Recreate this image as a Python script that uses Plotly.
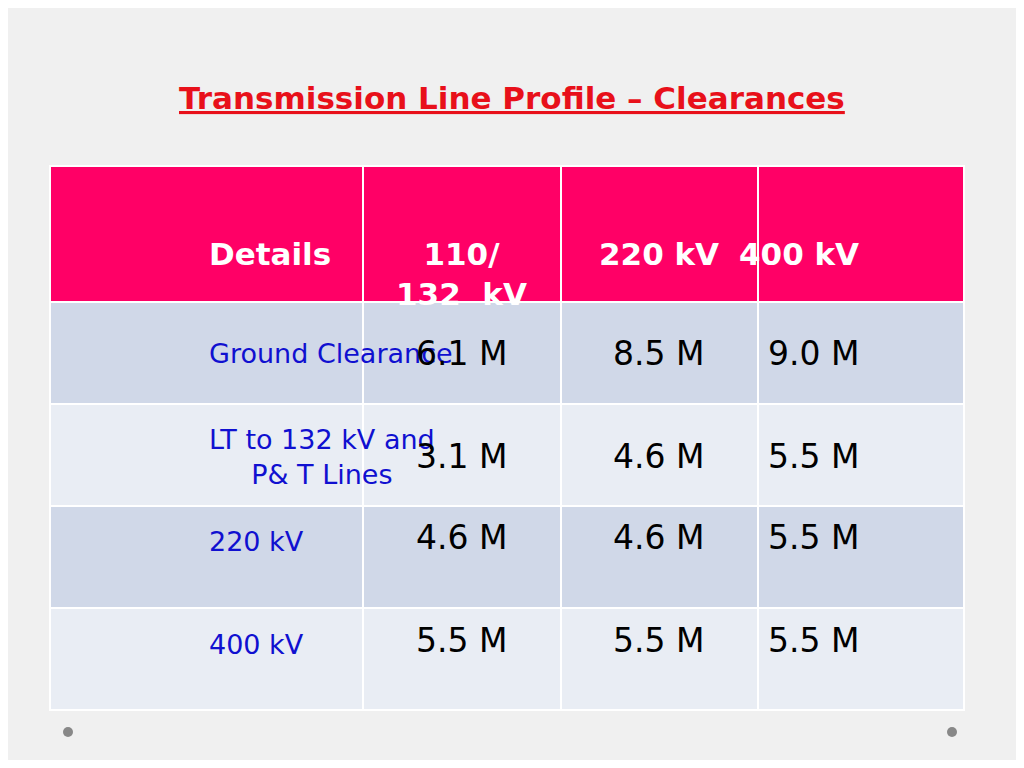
import plotly.graph_objects as go

headers = ["Details", "110/<br>132  kV", "220 kV", "400 kV"]
details = ["Ground Clearance", "LT to 132 kV and<br>P& T Lines", "220 kV", "400 kV"]
v132 = ["6.1 M", "3.1 M", "4.6 M", "5.5 M"]
v220 = ["8.5 M", "4.6 M", "4.6 M", "5.5 M"]
v400 = ["9.0 M", "5.5 M", "5.5 M", "5.5 M"]

W, H = 1008, 752
OFF = 8
def px(x): return (x - OFF) / W
def py(y): return 1 - (y - OFF) / H

col_edges = [50, 363, 560, 757, 964]
row_edges = [166, 302, 405, 508, 610, 713]
col_c = [(col_edges[i] + col_edges[i+1]) / 2 for i in range(4)]
row_c = [(row_edges[i] + row_edges[i+1]) / 2 for i in range(5)]

rowfill = ["#d0d8e8", "#e9edf4", "#d0d8e8", "#e9edf4"]
blank = [[""] * 4 for _ in range(4)]
fig = go.Figure(go.Table(
    domain=dict(x=[px(50), px(964)], y=[py(713), py(166)]),
    columnwidth=[313, 197, 197, 206],
    header=dict(values=[""] * 4, fill_color="#ff0066",
                line=dict(color="white", width=2), height=136),
    cells=dict(values=blank, fill_color=[rowfill] * 4,
               line=dict(color="white", width=2), height=102)
))

ann = [dict(text="<b><u>Transmission Line Profile – Clearances</u></b>",
            x=px(512), y=py(78), xref="paper", yref="paper", showarrow=False,
            font=dict(family="DejaVu Sans", size=31, color="#e8101a"))]
for j, h in enumerate(headers):
    ann.append(dict(text=f"<b>{h}</b>", x=px(col_c[j]), y=py(row_c[0]), xref="paper",
                    yref="paper", showarrow=False,
                    font=dict(family="DejaVu Sans", size=31, color="white")))
cols = [details, v132, v220, v400]
for j, col in enumerate(cols):
    for i, v in enumerate(col):
        ann.append(dict(text=v, x=px(col_c[j]), y=py(row_c[i + 1]), xref="paper",
                        yref="paper", showarrow=False,
                        font=dict(family="DejaVu Sans", size=27 if j == 0 else 33,
                                  color="#1010d0" if j == 0 else "black")))

fig.update_layout(
    width=W, height=H, margin=dict(l=0, r=0, t=0, b=0),
    paper_bgcolor="#f0f0f0", plot_bgcolor="#f0f0f0",
    annotations=ann,
    shapes=[dict(type="circle", xref="paper", yref="paper", x0=px(63), x1=px(73),
                 y0=py(737), y1=py(727), fillcolor="#888888", line_width=0),
            dict(type="circle", xref="paper", yref="paper", x0=px(947), x1=px(957),
                 y0=py(737), y1=py(727), fillcolor="#888888", line_width=0)],
)
fig.write_html("out.html")
